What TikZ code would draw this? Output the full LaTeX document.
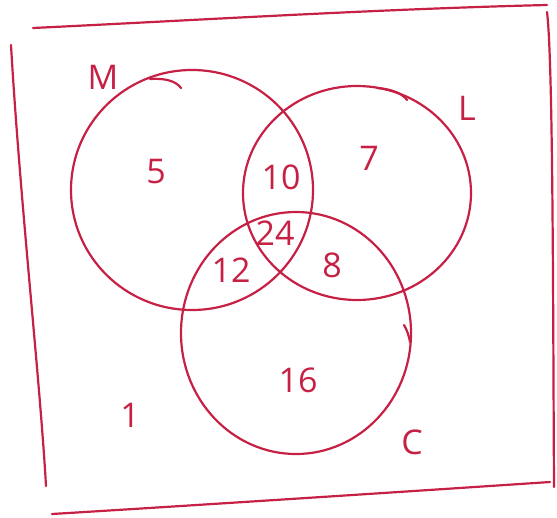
\documentclass[tikz,border=0pt]{standalone}
\usepackage{fontspec}
\setmainfont{Open Sans}
\definecolor{ink}{RGB}{198,32,68}
\begin{document}
\begin{tikzpicture}[x=1pt,y=-1pt,
  pen/.style={draw=ink,line width=2.2pt,line cap=round,line join=round},
  lbl/.style={text=ink,font=\fontsize{34}{36}\selectfont,inner sep=0pt}]
\useasboundingbox (0,0) rectangle (557,517);
% frame
\coordinate (t1) at (33,28); \coordinate (t2) at (547,5);
\coordinate (r1) at (547,12); \coordinate (r2) at (554,487);
\coordinate (b1) at (52,514); \coordinate (b2) at (550,482);
\coordinate (l1) at (11,45); \coordinate (l2) at (46,486);
\draw[pen] (t1) .. controls (200,20) and (380,9) .. (t2);
\draw[pen] (r1) .. controls (553,60) and (553,300) .. (r2);
\draw[pen] (b1) .. controls (200,505) and (400,492) .. (b2);
\draw[pen] (l1) .. controls (20,200) and (40,380) .. (l2);
% circles
\draw[pen] (192,190) ellipse [x radius=121, y radius=120];
\draw[pen] (357,193) ellipse [x radius=114, y radius=107];
\draw[pen] (296,333) ellipse [x radius=115, y radius=121];
% overlap hooks
\draw[pen] (150,79) .. controls (165,78) and (176,81) .. (181,88);
\draw[pen] (377,88) .. controls (392,89) and (403,94) .. (407,100);
\draw[pen] (404,325) .. controls (407,330) and (409,336) .. (410,342);
% labels
\node[lbl] (M) at (103,77) {M};
\node[lbl] (L) at (467,108) {L};
\node[lbl] (C) at (412,442) {C};
\node[lbl] (n1) at (130,415) {1};
\node[lbl] (n5) at (156,172) {5};
\node[lbl] (n10) at (281,177) {10};
\node[lbl] (n7) at (369,158) {7};
\node[lbl] (n24) at (275,233) {24};
\node[lbl] (n12) at (231,270) {12};
\node[lbl] (n8) at (332,265) {8};
\node[lbl] (n16) at (298,380) {16};
\end{tikzpicture}
\end{document}
